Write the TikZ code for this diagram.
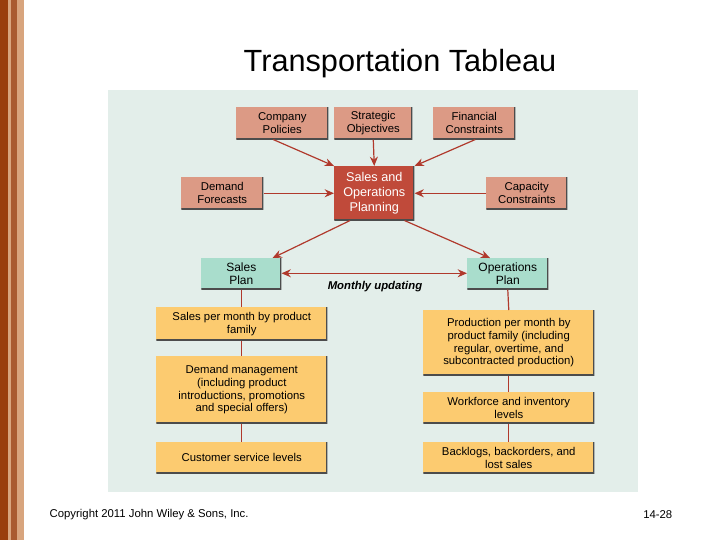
\documentclass[tikz,border=0pt]{standalone}
\usepackage{fontspec}
\setmainfont{Liberation Sans}
\usetikzlibrary{calc,arrows.meta}
\definecolor{panel}{HTML}{E3EEEA}
\definecolor{salmon}{HTML}{DC9A85}
\definecolor{sop}{HTML}{C04A3A}
\definecolor{green}{HTML}{A9DDCC}
\definecolor{yel}{HTML}{FCCB70}
\definecolor{arr}{HTML}{B0392C}
\definecolor{brA}{HTML}{9A3E0C}
\definecolor{brB}{HTML}{D8A57E}
\begin{document}
\begin{tikzpicture}[x=0.75pt,y=-0.75pt,
 bx/.style={draw=none,inner sep=0pt,align=center,font=\fontsize{8.5}{9.5}\selectfont,
   path picture={\draw[black!70,line width=1.2pt] (path picture bounding box.south west)--(path picture bounding box.south east)--(path picture bounding box.north east);}},
 ar/.style={draw=arr,line width=0.9pt,-{Stealth[length=7pt,width=6pt]}},
 ln/.style={draw=arr,line width=0.9pt}]
\useasboundingbox (0,0) rectangle (720,540);
\fill[white] (0,0) rectangle (720,540);
\fill[brA] (0,0) rectangle (8,540);
\fill[brB] (8,0) rectangle (11,540);
\fill[brA!85] (11,0) rectangle (17,540);
\fill[brB] (17,0) rectangle (24,540);
\node[font=\fontsize{23}{28}\selectfont] (title) at (400,64) {Transportation Tableau};
\node[font=\fontsize{8.5}{10}\selectfont,anchor=west] (copy) at (45,515) {Copyright 2011 John Wiley \& Sons, Inc.};
\node[font=\fontsize{8.5}{10}\selectfont,anchor=east] (pg) at (677,515) {14-28};
\fill[panel] (108,90) rectangle (638,492);
\node[bx,fill=salmon,minimum width=69pt,minimum height=24pt,anchor=north west] (cp) at (236,107) {Company\\Policies};
\node[bx,fill=salmon,minimum width=58.5pt,minimum height=24pt,anchor=north west] (so) at (334,107) {Strategic\\Objectives};
\node[bx,fill=salmon,minimum width=61.5pt,minimum height=24pt,anchor=north west] (fc) at (433,107) {Financial\\Constraints};
\node[bx,fill=salmon,minimum width=61.5pt,minimum height=24pt,anchor=north west] (df) at (181,177) {Demand\\Forecasts};
\node[bx,fill=sop,text=white,minimum width=60pt,minimum height=40.5pt,anchor=north west,font=\fontsize{9.5}{11}\selectfont] (sp) at (334,166) {Sales and\\Operations\\Planning};
\node[bx,fill=salmon,minimum width=60.75pt,minimum height=24pt,anchor=north west] (cc) at (486,177) {Capacity\\Constraints};
\node[bx,fill=green,minimum width=60pt,minimum height=23.25pt,anchor=north west,font=\fontsize{9}{10}\selectfont] (sl) at (201,258) {Sales\\Plan};
\node[bx,fill=green,minimum width=60.75pt,minimum height=23.25pt,anchor=north west,font=\fontsize{9}{10}\selectfont] (op) at (467,258) {Operations\\Plan};
\node[bx,fill=yel,minimum width=128.25pt,minimum height=24.75pt,anchor=north west] (l1) at (156,307) {Sales per month by product\\family};
\node[bx,fill=yel,minimum width=128.25pt,minimum height=50.25pt,anchor=north west] (l2) at (156,356) {Demand management\\(including product\\introductions, promotions\\and special offers)};
\node[bx,fill=yel,minimum width=128.25pt,minimum height=23.25pt,anchor=north west] (l3) at (156,442) {Customer service levels};
\node[bx,fill=yel,minimum width=128.25pt,minimum height=48.75pt,anchor=north west] (r1) at (423,310) {Production per month by\\product family (including\\regular, overtime, and\\subcontracted production)};
\node[bx,fill=yel,minimum width=128.25pt,minimum height=23.25pt,anchor=north west] (r2) at (423,392) {Workforce and inventory\\levels};
\node[bx,fill=yel,minimum width=128.25pt,minimum height=23.25pt,anchor=north west] (r3) at (423,442) {Backlogs, backorders, and\\lost sales};
\node[font=\fontsize{8.5}{10}\selectfont\bfseries\itshape] (mu) at (375,287) {Monthly updating};
\draw[ar] ($(cp.south)+(-9,0)$) -- (sp.north west);
\draw[ar] (so.south) -- (sp.north);
\draw[ar] ($(fc.south)+(1,0)$) -- (sp.north east);
\draw[ar] (df.east) -- (sp.west |- df.east);
\draw[ar] (cc.west) -- (sp.east |- cc.west);
\draw[ar] ($(sp.south west)+(16,0)$) -- ($(sl.north east)+(-9,0)$);
\draw[ar] ($(sp.south east)+(-10,0)$) -- ($(op.north west)+(23,0)$);
\draw[arr,line width=0.9pt,{Stealth[length=7pt,width=6pt]}-{Stealth[length=7pt,width=6pt]}] ($(sl.east)+(0,-0.5)$) -- ($(op.west)+(0,-0.5)$);
\draw[ln] (sl.south) -- (sl.south |- l1.north);
\draw[ln] (l1.south) -- (l2.north);
\draw[ln] (l2.south) -- (l3.north);
\draw[ln] (op.south) -- (r1.north);
\draw[ln] (r1.south) -- (r2.north);
\draw[ln] (r2.south) -- (r3.north);
\end{tikzpicture}
\end{document}
